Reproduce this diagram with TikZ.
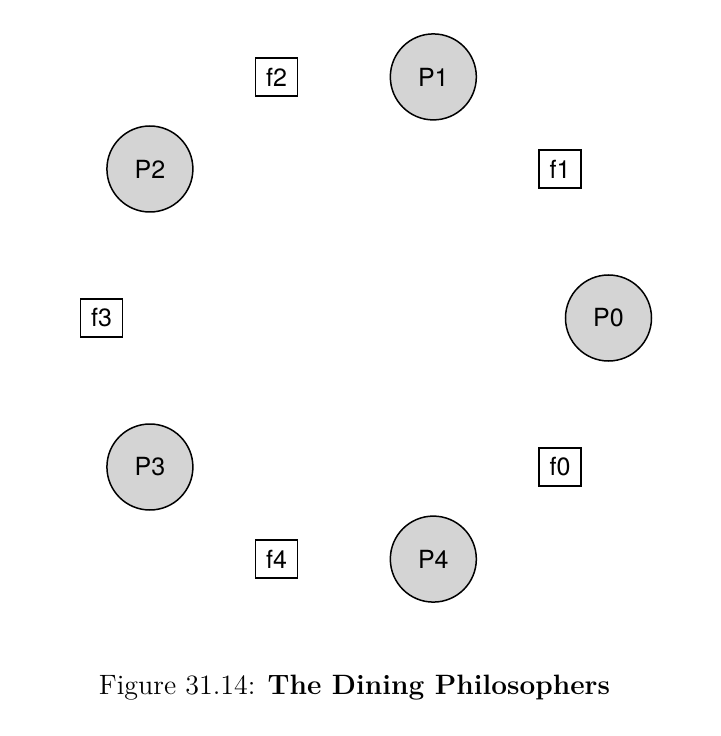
\documentclass[tikz,border=0pt]{standalone}
\usepackage{fontspec}
\setsansfont{TeX Gyre Heros}
\usepackage{tikz}
\tikzset{
  philo/.style={circle, draw, line width=0.75pt, fill=black!17, minimum size=43pt, inner sep=0pt, font=\sffamily\fontsize{12.5}{14}\selectfont},
  fork/.style={rectangle, draw, line width=0.75pt, minimum width=21pt, minimum height=19pt, inner sep=0pt, font=\sffamily\fontsize{12.5}{14}\selectfont},
}

\begin{document}
\begin{tikzpicture}[x=0.5pt,y=0.5pt]
  \useasboundingbox (0,0) rectangle (720,736);
  \coordinate (c) at (355,418);
  % philosophers and forks round the table
  \foreach \i in {0,...,4} {
    \node[philo] (P\i) at ([shift={(72*\i:253.5)}]c) {P\i};
    \node[fork] (f\i) at ([shift={(72*\i-36:253.5)}]c) {f\i};
  }
  \node (caption) at (354.5,48) {\fontsize{14}{17}\selectfont Figure 31.14: \textbf{The Dining Philosophers}};
\end{tikzpicture}
\end{document}
